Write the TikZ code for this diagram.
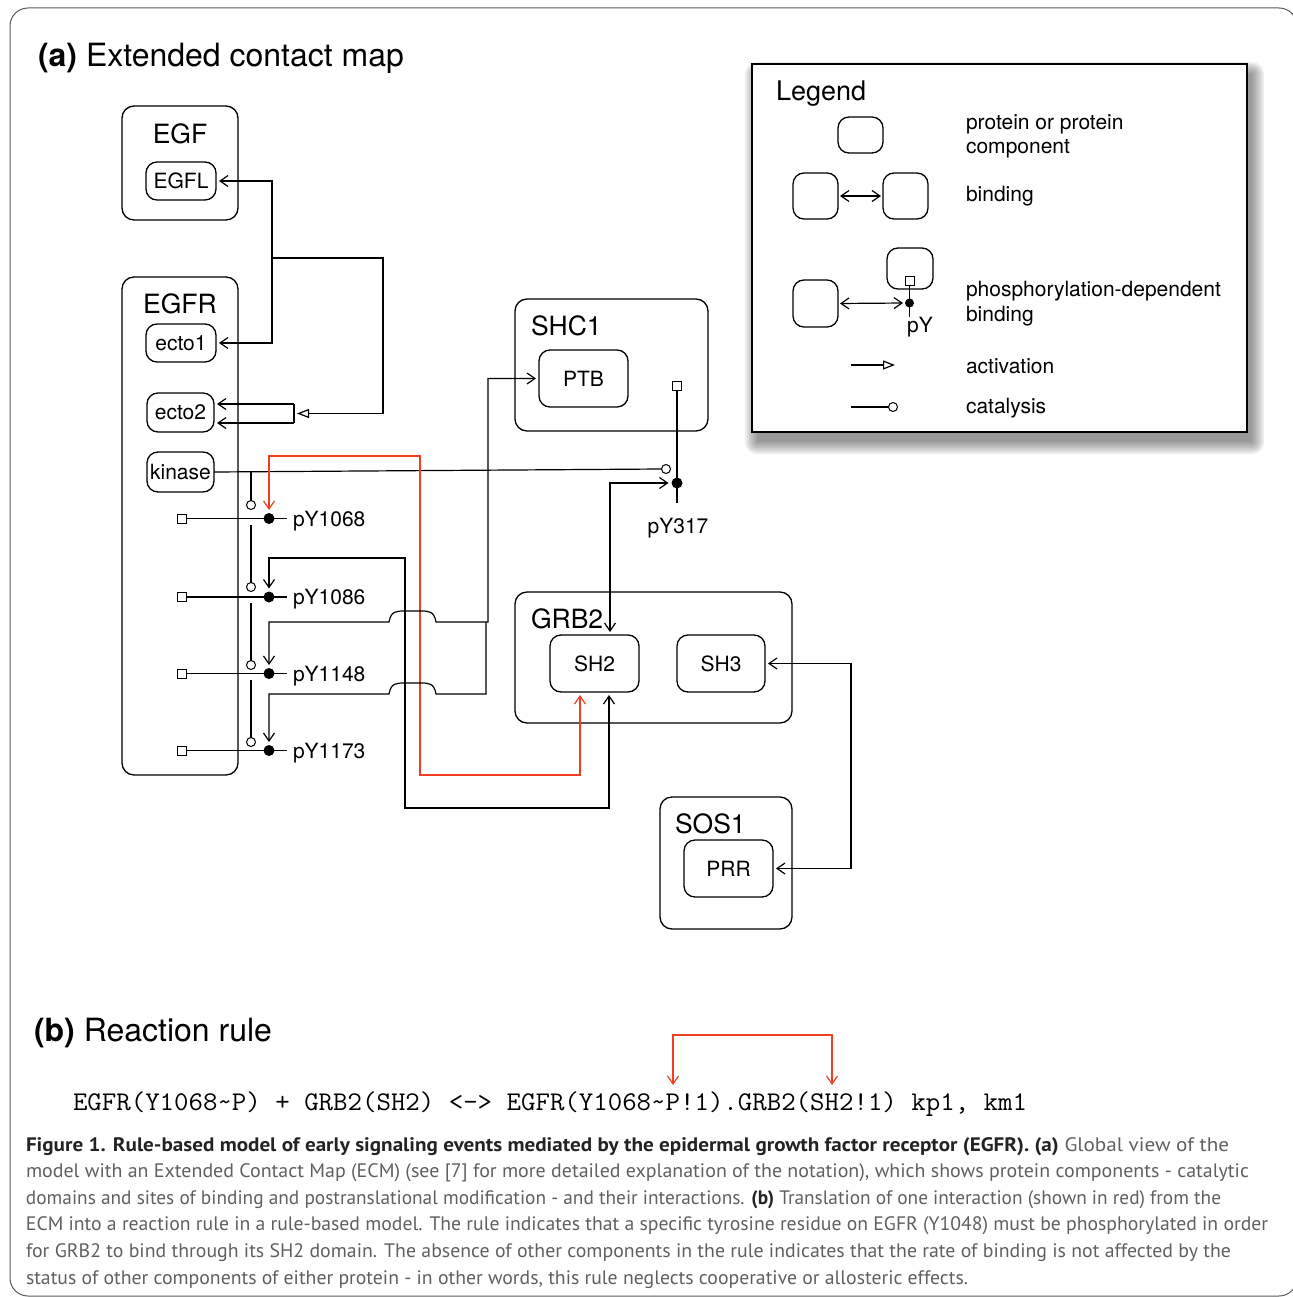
\documentclass[tikz,border=0pt]{standalone}
\usepackage{fontspec}
\setmainfont{TeX Gyre Heros}
\newfontfamily\capfont{PT Sans}
\usetikzlibrary{arrows.meta}
\definecolor{bngred}{RGB}{240,62,35}
\definecolor{capgray}{RGB}{95,95,95}
\definecolor{capdark}{RGB}{35,35,35}
\newcommand\fsProt{\fontsize{26.5}{30}\selectfont}
\newcommand\fsComp{\fontsize{21}{25}\selectfont}
\newcommand\fsTitle{\fontsize{32}{36}\selectfont}
\newcommand\fsLeg{\fontsize{27}{30}\selectfont}
\newcommand\fsCap{\fontsize{19.5}{24}\selectfont}
\begin{document}
\begin{tikzpicture}[x=1pt,y=-1pt,
  every node/.style={inner sep=0pt, outer sep=0pt},
  ln/.style={line width=1.2pt},
  cont/.style={draw, line width=1.3pt, rounded corners=12pt},
  comp/.style={draw, line width=1.3pt, rounded corners=11pt, font=\fsComp},
  bd/.style={ln, {Straight Barb[length=8pt,width=11pt]}-{Straight Barb[length=8pt,width=11pt]}, shorten <=3pt, shorten >=3pt},
  bds/.style={ln, {Straight Barb[length=8pt,width=11pt]}-, shorten <=3pt},
  bde/.style={ln, -{Straight Barb[length=8pt,width=11pt]}, shorten >=3pt},
  act/.style={ln, -{Triangle[open,length=12pt,width=9pt,fill=white]}, shorten >=3pt},
  sq/.style={draw, line width=1pt, minimum size=9pt, fill=white},
  pd/.style={circle, fill=black, minimum size=11pt},
  oc/.style={circle, draw, line width=1pt, minimum size=9pt, fill=white},
  lbl/.style={font=\fsComp, anchor=base west},
  ptitle/.style={font=\fsProt}
]
\useasboundingbox (0,0) rectangle (1292,1297);
% outer frame
\draw[line width=1pt, draw=black!65, rounded corners=18pt] (10,8) rectangle (1297,1296);

% titles
\node[anchor=base west, font=\fsTitle] (ta) at (38,67) {\bfseries (a)\mdseries\ Extended contact map};
\node[anchor=base west, font=\fsTitle] (tb) at (34,1041) {\bfseries (b)\mdseries\ Reaction rule};

% ---------- proteins ----------
\node[cont, minimum width=116pt, minimum height=114pt] (EGF) at (180,163) {};
\node[ptitle, anchor=base] (EGFt) at (180,143.5) {EGF};
\node[comp, minimum width=70pt, minimum height=38pt] (EGFL) at (181,181) {EGFL};

\node[cont, minimum width=116pt, minimum height=498pt] (EGFR) at (180,526) {};
\node[ptitle, anchor=base] (EGFRt) at (180,313.5) {EGFR};
\node[comp, minimum width=70pt, minimum height=38pt] (ecto1) at (181,343) {ecto1};
\node[comp, minimum width=67pt, minimum height=39pt] (ecto2) at (180.5,412.5) {ecto2};
\node[comp, minimum width=67pt, minimum height=40pt] (kinase) at (180.5,472) {kinase};

\node[cont, minimum width=193pt, minimum height=132pt] (SHC1) at (611.5,365) {};
\node[ptitle, anchor=base west] (SHC1t) at (531,335.5) {SHC1};
\node[comp, minimum width=89pt, minimum height=57pt] (PTB) at (583.5,378.5) {PTB};

\node[cont, minimum width=277pt, minimum height=131pt] (GRB2) at (653.5,657.5) {};
\node[ptitle, anchor=base west] (GRB2t) at (531,628.5) {GRB2};
\node[comp, minimum width=89pt, minimum height=57pt] (SH2) at (594.5,663.5) {SH2};
\node[comp, minimum width=88pt, minimum height=57pt] (SH3) at (721,663.5) {SH3};

\node[cont, minimum width=132pt, minimum height=132pt] (SOS1) at (726,863) {};
\node[ptitle, anchor=base west] (SOS1t) at (675,833.5) {SOS1};
\node[comp, minimum width=89pt, minimum height=57pt] (PRR) at (728.5,868.5) {PRR};

% ---------- EGFR sites ----------
\node[sq] (sq1068) at (182,518.5) {};
\node[sq] (sq1086) at (182,597) {};
\node[sq] (sq1148) at (182,673.5) {};
\node[sq] (sq1173) at (182,750.5) {};
\node[pd] (d1068) at (269,518.5) {};
\node[pd] (d1086) at (269,597) {};
\node[pd] (d1148) at (269,673.5) {};
\node[pd] (d1173) at (269,750.5) {};
\node[lbl] (l1068) at (293,526) {pY1068};
\node[lbl] (l1086) at (293,604) {pY1086};
\node[lbl] (l1148) at (293,681) {pY1148};
\node[lbl] (l1173) at (293,758) {pY1173};
\draw[ln] (sq1068.east) -- (d1068.center);
\draw[ln] (sq1086.east) -- (d1086.center);
\draw[ln] (sq1148.east) -- (d1148.center);
\draw[ln] (sq1173.east) -- (d1173.center);
\draw[ln, shorten >=6pt] (d1068.center) -- (l1068.west |- d1068);
\draw[ln, shorten >=6pt] (d1086.center) -- (l1086.west |- d1086);
\draw[ln, shorten >=6pt] (d1148.center) -- (l1148.west |- d1148);
\draw[ln, shorten >=6pt] (d1173.center) -- (l1173.west |- d1173);

% SHC1 site
\node[sq] (sq317) at (677,386) {};
\node[pd] (d317) at (677,483) {};
\coordinate (tail317) at (677,503);
\node[font=\fsComp, anchor=base] (l317) at (678,533.5) {pY317};
\draw[ln] (sq317.south) -- (d317.center) -- (tail317);

% ---------- catalysis ----------
\node[oc] (c317) at (666,469) {};
\node[oc] (c1068) at (251,505) {};
\node[oc] (c1086) at (251,587) {};
\node[oc] (c1148) at (251,665) {};
\node[oc] (c1173) at (251,742) {};
\draw[ln] (kinase.east) -- (c317.west);
\coordinate (kb) at (251,471.7);
\coordinate (g1) at (251,525);
\coordinate (g2) at (251,603);
\coordinate (g3) at (251,680);
\draw[ln] (kb) -- (c1068.north);
\draw[ln] (g1) -- (c1086.north);
\draw[ln] (g2) -- (c1148.north);
\draw[ln] (g3) -- (c1173.north);

% ---------- binding / activation ----------
\draw[bd] (EGFL.east) -- (272,181) -- (272,343) -- (ecto1.east);
\coordinate (a0) at (272,258);
\coordinate (brk) at (294,413.5);
\coordinate (brkT) at (294,404);
\coordinate (brkB) at (294,423);
\draw[act] (a0) -- (383,258) -- (383,413.5) -- (brk);
\draw[ln] (brkT) -- (brkB);
\draw[bde] (brkT) -- (ecto2.east |- brkT);
\draw[bde] (brkB) -- (ecto2.east |- brkB);

% red interaction
\draw[bd, draw=bngred] (d1068.north) -- (269,456) -- (420,456) -- (420,775) -- (580,775) -- (SH2.south -| 580,0);

% pY1086 - SH2
\draw[bd] (d1086.north) -- (269,558) -- (405,558) -- (405,808) -- (609,808) -- (SH2.south -| 609,0);

% pY1148 - PTB
\draw[bd] (d1148.north) -- (269,622) -- (389,622)
   .. controls (391,611) and (396,611) .. (405,611) -- (420,611)
   .. controls (429,611) and (434,611) .. (436,622) -- (488,622) -- (488,378.5) -- (PTB.west);
% pY1173 - PTB (joins)
\coordinate (j1148) at (486,622);
\draw[bds] (d1173.north) -- (269,694) -- (389,694)
   .. controls (391,683) and (396,683) .. (405,683) -- (420,683)
   .. controls (429,683) and (434,683) .. (436,694) -- (486,694) -- (j1148);

% pY317 - SH2
\draw[bd] (d317.west) -- (610,483) -- (SH2.north -| 610,0);

% SH3 - PRR
\draw[bd] (SH3.east) -- (851,663.5) -- (851,868.5) -- (PRR.east);

% ---------- legend ----------
\foreach \e in {0,2,...,12}
  \fill[black, opacity=0.07, rounded corners=\e pt] (757-\e,74-\e) rectangle (1252+\e,442+\e);
\node[draw, line width=1.3pt, fill=white, minimum width=495pt, minimum height=368pt] (legend) at (999.5,248) {};
\node[anchor=base west, font=\fsLeg] (legt) at (776,100.7) {Legend};
\node[comp, minimum width=45pt, minimum height=36pt] (lb1) at (860.5,135) {};
\node[comp, minimum width=45pt, minimum height=46pt] (lb2a) at (815.5,196) {};
\node[comp, minimum width=45pt, minimum height=46pt] (lb2b) at (905.5,196) {};
\draw[bd, shorten <=2pt, shorten >=2pt] (lb2a.east) -- (lb2b.west);
\node[comp, minimum width=46pt, minimum height=41pt] (lb3b) at (910,268.5) {};
\node[comp, minimum width=45pt, minimum height=47pt] (lb3a) at (815.5,303.5) {};
\node[sq] (lsq) at (909.5,281) {};
\node[pd, minimum size=9pt] (ldot) at (909.5,303) {};
\coordinate (ltail) at (909.5,317);
\draw[ln] (lsq.south) -- (ldot.center) -- (ltail);
\draw[bd, shorten <=2pt, shorten >=2pt] (lb3a.east) -- (ldot.west);
\node[font=\fsComp, anchor=base] (lpy) at (920,332) {pY};
\coordinate (la1) at (851,365);
\coordinate (la2) at (898,365);
\draw[act] (la1) -- (la2);
\coordinate (lc1) at (851,407);
\node[oc] (lcat) at (893,407) {};
\draw[ln] (lc1) -- (lcat.west);

\node[lbl] (lt1) at (966,130) {protein or protein};
\node[lbl] (lt1b) at (966,153.5) {component};
\node[lbl] (lt2) at (966,201.7) {binding};
\node[lbl] (lt3) at (966,296.7) {phosphorylation-dependent};
\node[lbl] (lt3b) at (966,321.7) {binding};
\node[lbl] (lt4) at (966,373.3) {activation};
\node[lbl] (lt5) at (966,413) {catalysis};

% ---------- reaction rule ----------
\node[anchor=base west] (rule) at (73,1110) {\resizebox{954pt}{\height}{\ttfamily\fontsize{27}{30}\selectfont EGFR(Y1068\textasciitilde P) + GRB2(SH2) <-> EGFR(Y1068\textasciitilde P!1).GRB2(SH2!1) kp1, km1}};
\coordinate (rb1) at (673,1085);
\coordinate (rb2) at (832,1085);
\draw[ln, draw=bngred, {Straight Barb[length=8pt,width=11pt]}-{Straight Barb[length=8pt,width=11pt]}] (rb1) -- (673,1035) -- (832,1035) -- (rb2);

% ---------- caption ----------
\begin{scope}[every node/.append style={anchor=base west, font=\capfont\fsCap, text=capgray}]
\node (cap1) at (26,1151) {\resizebox{1203pt}{\height}{\textcolor{capdark}{\bfseries Figure 1. Rule-based model of early signaling events mediated by the epidermal growth factor receptor (EGFR). (a)} Global view of the}};
\node (cap2) at (26,1177.6) {\resizebox{1223pt}{\height}{model with an Extended Contact Map (ECM) (see [7] for more detailed explanation of the notation), which shows protein components - catalytic}};
\node (cap3) at (26,1204.2) {\resizebox{1195pt}{\height}{domains and sites of binding and postranslational modification - and their interactions. \textcolor{capdark}{\bfseries (b)} Translation of one interaction (shown in red) from the}};
\node (cap4) at (26,1230.8) {\resizebox{1242pt}{\height}{ECM into a reaction rule in a rule-based model. The rule indicates that a specific tyrosine residue on EGFR (Y1048) must be phosphorylated in order}};
\node (cap5) at (26,1257.4) {\resizebox{1205pt}{\height}{for GRB2 to bind through its SH2 domain. The absence of other components in the rule indicates that the rate of binding is not affected by the}};
\node (cap6) at (26,1284) {\resizebox{942pt}{\height}{status of other components of either protein - in other words, this rule neglects cooperative or allosteric effects.}};
\end{scope}
\end{tikzpicture}
\end{document}
